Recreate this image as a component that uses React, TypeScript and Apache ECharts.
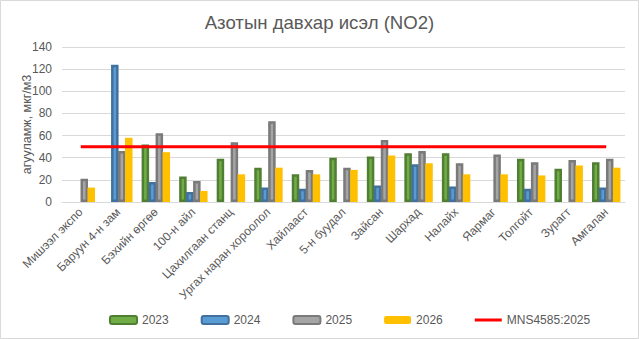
import React, { useEffect, useRef } from "react";
import * as echarts from "echarts";

const categories = [
  "Мишээл экспо",
  "Баруун 4-н зам",
  "Бэхийн өргөө",
  "100-н айл",
  "Цахилгаан станц",
  "Ургах наран хороолол",
  "Хайлааст",
  "5-н буудал",
  "Зайсан",
  "Шархад",
  "Налайх",
  "Яармаг",
  "Толгойт",
  "Зурагт",
  "Амгалан",
];

const s2023 = [null, null, 52, 23, 39, 31, 25, 40, 41, 44, 44, null, 39, 30, 36];
const s2024 = [null, 124, 18, 9, null, 13, 12, null, 15, 34, 14, null, 12, null, 13];
const s2025 = [21, 46, 62, 19, 54, 73, 29, 31, 56, 46, 35, 43, 36, 38, 39];
const s2026 = [13, 58, 45, 10, 25, 31, 25, 29, 42, 35, 25, 25, 24, 33, 31];
const standardValue = 50;
const standard = categories.map(() => standardValue);

const yTicks = { min: 0, max: 140, interval: 20 };

const FONT = "'Liberation Sans', Arial, sans-serif";
const TXT = "#595959";

export default function App() {
  const ref = useRef<HTMLDivElement>(null);
  useEffect(() => {
    if (!ref.current) return;
    const chart = echarts.init(ref.current, undefined, { renderer: "svg" });
    const barBase = { type: "bar", barWidth: 7.5, barGap: "-7%" };
    chart.setOption({
      animation: false,
      textStyle: { fontFamily: FONT },
      title: {
        text: "Азотын давхар исэл (NO2)",
        left: "center",
        top: 8,
        textStyle: { fontSize: 18.6, fontWeight: "normal", color: TXT, fontFamily: FONT },
      },
      graphic: [
        {
          type: "rect",
          shape: { x: 0.5, y: 0.5, width: 638, height: 338 },
          style: { fill: "none", stroke: "#D9D9D9", lineWidth: 1 },
          silent: true,
        },
      ],
      legend: {
        left: 104,
        top: 309,
        itemWidth: 27,
        itemHeight: 8,
        itemGap: 32,
        textStyle: { fontSize: 12, color: TXT, fontFamily: FONT },
        data: [
          "2023",
          "2024",
          "2025",
          "2026",
          { name: "MNS4585:2025", icon: "path://M0,0H27V3H0Z" },
        ],
      },
      grid: { left: 62, right: 14, top: 47, bottom: 137 },
      xAxis: {
        type: "category",
        data: categories,
        axisLine: { lineStyle: { color: "#D9D9D9" } },
        axisTick: { show: false },
        axisLabel: { rotate: 45, fontSize: 12, color: TXT, interval: 0, margin: 8 },
      },
      yAxis: {
        type: "value",
        min: yTicks.min,
        max: yTicks.max,
        interval: yTicks.interval,
        name: "агууламж, мкг/м3",
        nameLocation: "middle",
        nameGap: 29,
        nameMoveOverlap: false,
        nameTextStyle: { fontSize: 12.5, color: TXT },
        axisLine: { show: false },
        axisTick: { show: false },
        axisLabel: { fontSize: 12, color: TXT, margin: 10 },
        splitLine: { lineStyle: { color: "#D9D9D9" } },
      },
      series: [
        {
          ...barBase,
          name: "2023",
          data: s2023,
          itemStyle: { color: "#70AD47", borderColor: "#507E32", borderWidth: 2.5 },
        },
        {
          ...barBase,
          name: "2024",
          data: s2024,
          itemStyle: { color: "#5B9BD5", borderColor: "#41719C", borderWidth: 2.5 },
        },
        {
          ...barBase,
          name: "2025",
          data: s2025,
          itemStyle: { color: "#A5A5A5", borderColor: "#7A7A7A", borderWidth: 2.5 },
        },
        {
          ...barBase,
          name: "2026",
          data: s2026,
          itemStyle: { color: "#FFC000" },
        },
        {
          type: "line",
          name: "MNS4585:2025",
          data: standard,
          symbol: "none",
          showSymbol: false,
          lineStyle: { color: "#FF0000", width: 3 },
          itemStyle: { color: "#FF0000" },
          z: 5,
        },
      ],
    });
    return () => chart.dispose();
  }, []);
  return (
    <div
      ref={ref}
      style={{ position: "fixed", left: 0, top: 0, width: 639, height: 339, background: "#fff" }}
    />
  );
}
